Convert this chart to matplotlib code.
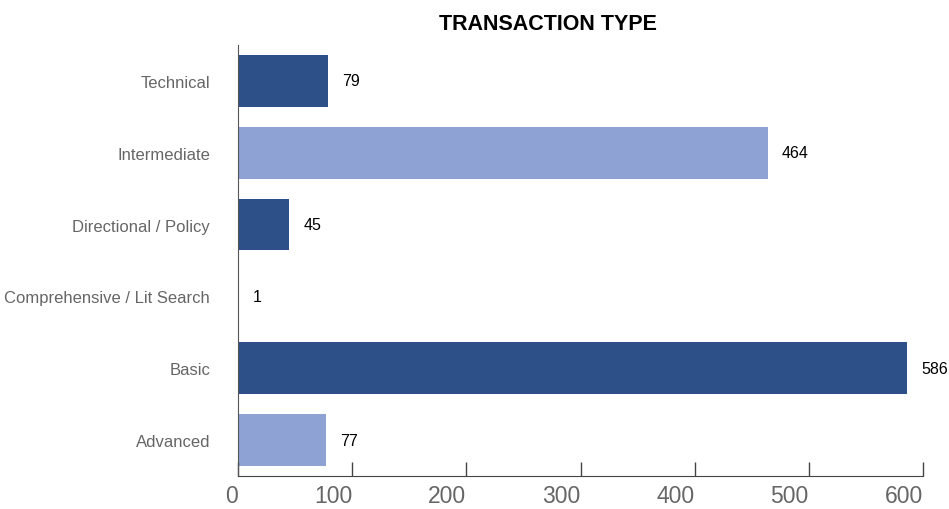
import matplotlib
matplotlib.use('Agg')
import matplotlib.pyplot as plt
from matplotlib.transforms import offset_copy

# DATA (bottom to top)
categories = ['Advanced', 'Basic', 'Comprehensive / Lit Search',
              'Directional / Policy', 'Intermediate', 'Technical']
values = [77, 586, 1, 45, 464, 79]
xticks = [0, 100, 200, 300, 400, 500, 600]

dark = '#2c5087'
light = '#8ea2d3'
colors = [light, dark, light, dark, light, dark]

plt.rcParams['font.family'] = ['Liberation Sans', 'DejaVu Sans']

fig = plt.figure(figsize=(9.49, 5.10), dpi=100)
ax = fig.add_axes([238/949, 1-477/510, (923-238)/949, (477-46)/510])

ypos = list(range(len(categories)))
ax.barh(ypos, values, height=0.72, color=colors)

off = offset_copy(ax.transData, fig=fig, x=14, y=0, units='dots')
for y, v in zip(ypos, values):
    ax.text(v, y, str(v), transform=off, ha='left', va='center',
            fontsize=11.5, color='black')

ax.set_xlim(0, 600)
ax.set_ylim(-0.5, 5.5)
ax.set_yticks(ypos)
ax.set_yticklabels(categories, fontsize=12, color='#666666')
ax.tick_params(axis='y', length=0, pad=20)
ax.set_xticks(xticks)
ax.set_xticklabels([str(t) for t in xticks], fontsize=16.5, color='#666666', ha='right')
ax.tick_params(axis='x', direction='in', length=10, width=1, color='#444444', pad=6)

for s in ['top', 'right']:
    ax.spines[s].set_visible(False)
ax.spines['left'].set_color('#555555')
ax.spines['bottom'].set_color('#444444')

fig.text(548/949, 1-24/510, 'TRANSACTION TYPE', ha='center', va='center',
         fontsize=15.5, fontweight='bold')

plt.savefig('out.png', dpi=100)
